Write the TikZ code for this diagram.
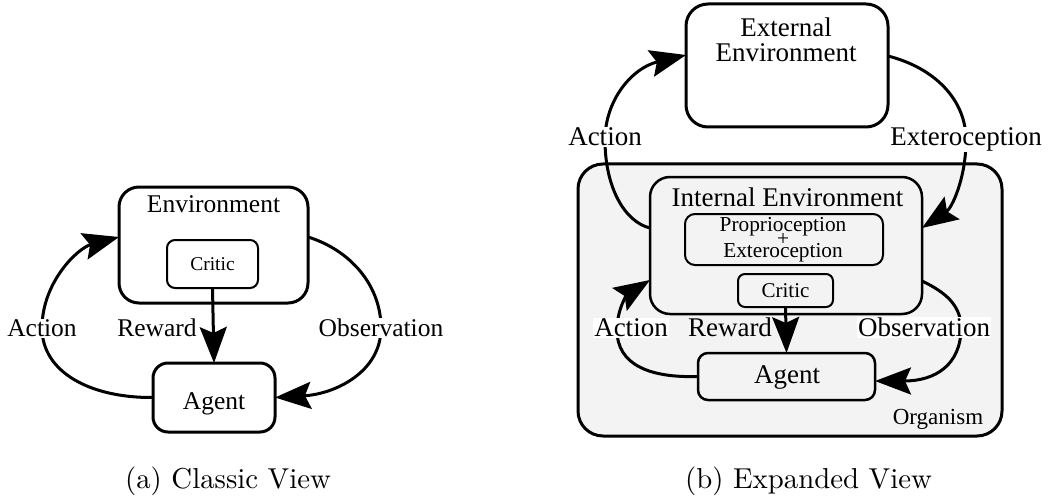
\documentclass[tikz,border=0pt]{standalone}
\usepackage{fontspec}
\usetikzlibrary{arrows.meta}
\newfontfamily\tnr{Liberation Serif}
\definecolor{orgfill}{RGB}{243,243,243}

\begin{document}
\begin{tikzpicture}[x=1pt,y=-1pt,
  box/.style={draw, rounded corners=#1, line width=3pt, inner sep=0pt, outer sep=0pt},
  box/.default=20pt,
  thinbox/.style={box=#1, line width=2pt},
  thinbox/.default=8pt,
  txt/.style={inner sep=0pt, anchor=base},
  lbl/.style={txt, inner sep=1pt, fill=white},
  fa/.style={font=\tnr\fontsize{25.5}{30}\selectfont},
  fb/.style={font=\tnr\fontsize{27}{32}\selectfont},
  fsmall/.style={font=\tnr\fontsize{#1}{#1}\selectfont},
  arr/.style={line width=3pt, -{Stealth[length=36pt,width=27pt,inset=6pt]}},
  subcap/.style={txt}
]
\useasboundingbox (0,0) rectangle (1048,497);

% ---------- (a) classic view ----------
\node[box=20pt, minimum width=189pt, minimum height=116pt] (env) at (213.5,245) {};
\node[txt, fa] (envT) at (213.5,212.5) {Environment};
\node[thinbox=8pt, minimum width=91pt, minimum height=48pt] (critA) at (212.5,264) {};
\node[txt, fsmall=19.5] (critAT) at (212.5,270) {Critic};
\node[box=15pt, minimum width=122pt, minimum height=69pt] (agentA) at (214,397.5) {};
\node[txt, fa] (agentAT) at (214,409) {Agent};

\draw[arr] (critA.south) -- (agentA.north);
\draw[arr] (agentA.west) .. controls (90,398) and (42,372) .. (42,328)
  .. controls (42,282) and (78,248) .. ([yshift=8pt]env.west);
\draw[arr] ([yshift=8pt]env.east) .. controls (350,250) and (381,285) .. (381,328)
  .. controls (381,372) and (335,394) .. (agentA.east);

\node[lbl, fa] (actA) at (42,336.4) {Action};
\node[txt, fa] (rewA) at (157,336.4) {Reward};
\node[lbl, fa] (obsA) at (381,336.4) {Observation};

% ---------- (b) expanded view ----------
\node[box=25pt, fill=orgfill, minimum width=424pt, minimum height=272pt] (org) at (790,300) {};
\node[txt, fsmall=23] (orgT) at (938,424) {Organism};

\node[box=22pt, minimum width=202pt, minimum height=123pt] (ext) at (787,65.5) {};
\node[inner sep=0pt, anchor=north, align=center, font=\tnr\fontsize{27}{24.5}\selectfont] (extT) at (786,18) {External\\Environment};

\node[box=20pt, line width=2.5pt, minimum width=272pt, minimum height=137pt] (int) at (786,245.5) {};
\node[txt, fb] (intT) at (787.5,206) {Internal Environment};
\node[thinbox=10pt, minimum width=198pt, minimum height=51pt] (prop) at (784,239.5) {};
\node[inner sep=0pt, anchor=north, align=center,
  font=\tnr\fontsize{21.3}{13}\selectfont] (propT) at (783,216.7)
  {Proprioception\\[-3.3pt]+\\[-2.5pt]Exteroception};
\node[thinbox=7pt, minimum width=95pt, minimum height=33pt] (critB) at (785.5,290.5) {};
\node[txt, fsmall=21] (critBT) at (785.5,297) {Critic};
\node[box=10pt, line width=2.5pt, minimum width=177pt, minimum height=47pt] (agentB) at (786.5,376.5) {};
\node[txt, fb] (agentBT) at (787,383) {Agent};

\draw[arr] (critB.south) -- (agentB.north);
% outer loop
\draw[arr] ([yshift=17.5pt]int.west) .. controls (625,222) and (605,188) .. (605,140)
  .. controls (605,100) and (632,68) .. ([yshift=10.5pt]ext.west);
\draw[arr] ([yshift=9.5pt]ext.east) .. controls (935,68) and (966,100) .. (966,140)
  .. controls (966,178) and (952,208) .. ([yshift=17.5pt]int.east);
% inner loop
\draw[arr] (agentB.west) .. controls (650,378) and (617,365) .. (617,330)
  .. controls (617,308) and (628,294) .. ([yshift=-34.5pt]int.west);
\draw[arr] ([yshift=-35.5pt]int.east) .. controls (945,292) and (961,305) .. (961,328)
  .. controls (961,365) and (935,381) .. ([yshift=-4.5pt]agentB.east);

\node[lbl, fb] (actB1) at (605,145.7) {Action};
\node[lbl, fb] (extB) at (966,145.7) {Exteroception};
\node[lbl, fb] (actB2) at (631,336.7) {Action};
\node[txt, fb] (rewB) at (730,336.7) {Reward};
\node[lbl, fb] (obsB) at (924,336.7) {Observation};

% ---------- captions (10pt type, enlarged) ----------
\node[subcap] (capA) at (228,488) {\scalebox{2.88}{\fontsize{10}{12}\selectfont (a) Classic View}};
\node[subcap] (capB) at (808.5,488) {\scalebox{2.88}{\fontsize{10}{12}\selectfont (b) Expanded View}};
\end{tikzpicture}
\end{document}
